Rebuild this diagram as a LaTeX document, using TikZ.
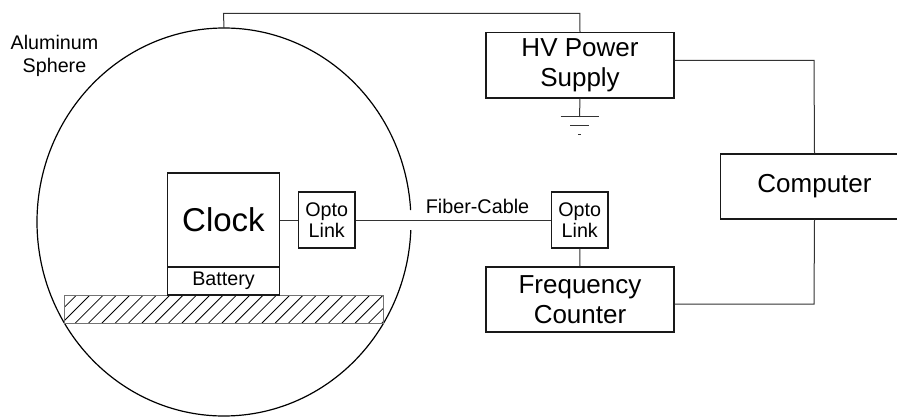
\documentclass[tikz,border=0pt]{standalone}
\usepackage{fontspec}
\setmainfont{Liberation Sans}
\usetikzlibrary{calc,shapes.geometric}
\definecolor{wirecol}{gray}{0.2}
\tikzset{
  x=1pt,y=-1pt,
  boxnode/.style={draw=black!90,line width=1.2pt,inner sep=0pt,align=center,minimum width=#1},
  wire/.style={draw=wirecol,line width=1pt},
  bigtext/.style={font=\fontsize{26}{29.5}\selectfont},
  smalltext/.style={font=\fontsize{19.7}{21.7}\selectfont},
}
\begin{document}
\begin{tikzpicture}
\useasboundingbox (0,0) rectangle (897,417);
% sphere
\node[ellipse,minimum width=374pt,minimum height=388pt,inner sep=0pt] (sphere) at (224,222) {};
\draw[line width=1.2pt,black] ($(sphere.center)+(3.5:187pt and 194pt)$) arc [start angle=3.5,end angle=357.6,x radius=187pt,y radius=194pt];
% base plate
\begin{scope}
\clip (64,295) rectangle (383,323);
\foreach \k in {-3,...,25}{
  \draw[black,line width=0.8pt] ({62+\k*13.33},323) -- ({90+\k*13.33},295);
}
\end{scope}
\node[draw=black!55,line width=0.9pt,minimum width=319pt,minimum height=28pt,inner sep=0pt] (plate) at (223.5,309) {};
% boxes
\node[boxnode=112pt,minimum height=94pt,font=\fontsize{33}{36}\selectfont] (clock) at (223.5,220) {Clock};
\node[boxnode=112pt,minimum height=28pt,smalltext] (battery) at (223.5,281) {Battery};
\node[boxnode=56.5pt,minimum height=56pt,smalltext] (opto1) at (326.75,220) {Opto\\Link};
\node[boxnode=56.5pt,minimum height=56pt,smalltext] (opto2) at (579.75,220) {Opto\\Link};
\node[boxnode=188pt,minimum height=65.5pt,bigtext] (hv) at (580,65.25) {HV Power\\Supply};
\node[boxnode=188pt,minimum height=65pt,bigtext] (freq) at (580,299.5) {Frequency\\Counter};
\node[boxnode=188pt,minimum height=65pt,font=\fontsize{26}{29.5}\selectfont] (computer) at (814.5,186.5) {Computer};
% labels
\node[font=\fontsize{19.7}{22.7}\selectfont,align=center,inner sep=0pt] (alum) at (54.5,56) {Aluminum\\Sphere};
\node[font=\fontsize{19.8}{22}\selectfont,inner sep=0pt] (fiber) at (477.5,206) {Fiber-Cable};
% connectors
\coordinate (topright) at (579.8,13.5);
\coordinate (topleft) at (223.5,13.5);
\draw[wire] (clock.east) -- (opto1.west);
\draw[wire] (opto1.east) -- (opto2.west);
\draw[wire] (opto2.south) -- (freq.north);
\draw[wire] (hv.north) -- (topright) -- (topleft) -- (sphere.north);
\coordinate (gnd) at (579.5,117);
\draw[wire] (hv.south) -- (gnd);
\draw[wire] ($(gnd)+(-19,0)$) -- ($(gnd)+(19,0)$);
\draw[wire] ($(gnd)+(-9.5,9)$) -- ($(gnd)+(9.5,9)$);
\draw[wire] ($(gnd)+(-1.5,17.5)$) -- ($(gnd)+(1.5,17.5)$);
\coordinate (hvturn) at (814,60.5);
\draw[wire] (hv.east |- hvturn) -- (hvturn) -- (computer.north);
\coordinate (fturn) at (814,304);
\draw[wire] (freq.east |- fturn) -- (fturn) -- (computer.south);
\end{tikzpicture}
\end{document}
